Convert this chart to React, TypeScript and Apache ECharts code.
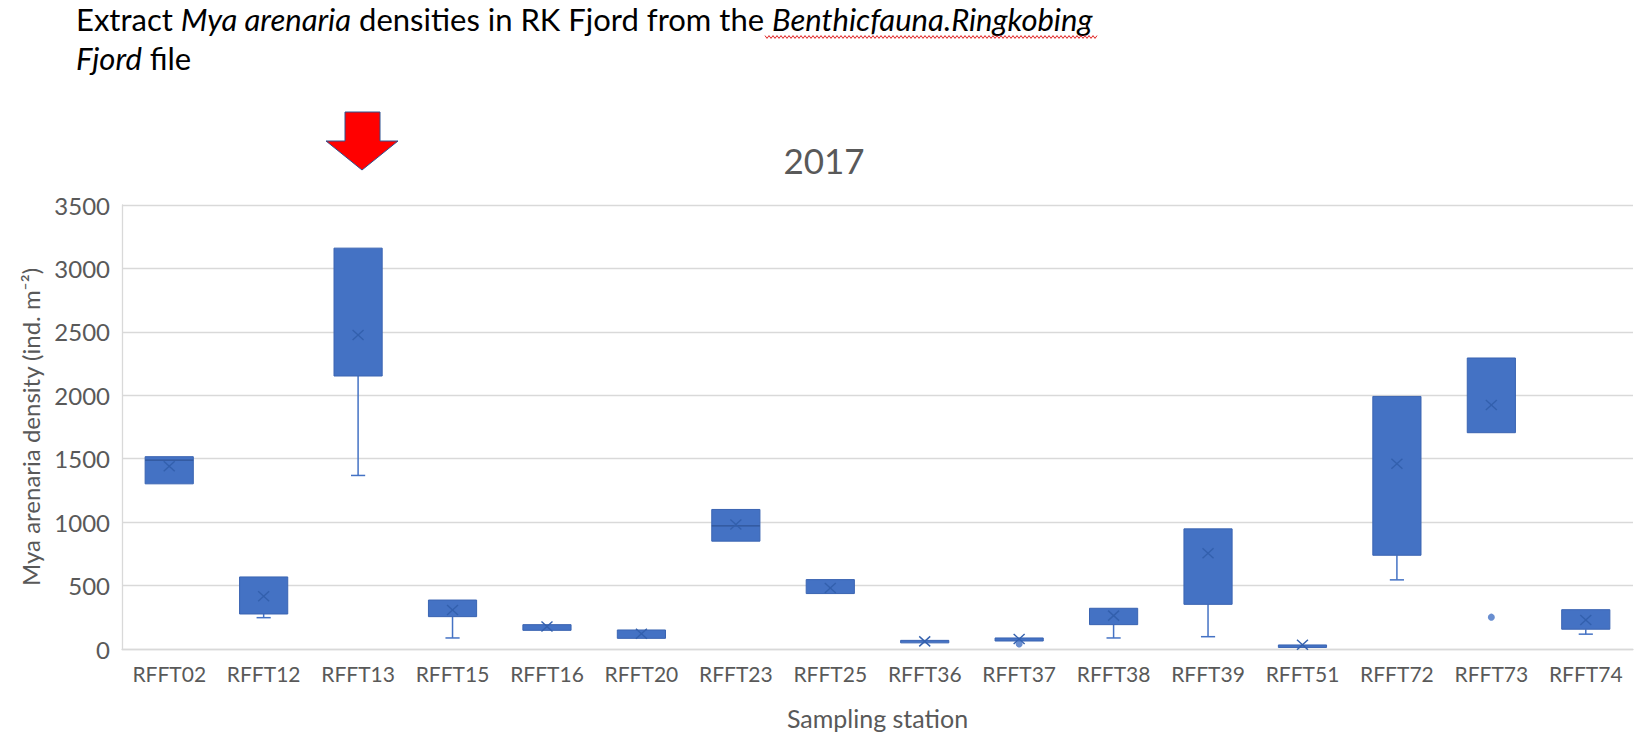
import React, { useEffect, useRef } from "react";
import * as echarts from "echarts";

const stations = ["RFFT02", "RFFT12", "RFFT13", "RFFT15", "RFFT16", "RFFT20", "RFFT23", "RFFT25", "RFFT36", "RFFT37", "RFFT38", "RFFT39", "RFFT51", "RFFT72", "RFFT73", "RFFT74"];
const whiskerLow = [1302, 247, 1368, 87, 147, 84, 850, 437, 52, 63, 87, 97, 20, 545, 1705, 117];
const quartile1 = [1302, 276, 2152, 255, 147, 84, 850, 437, 52, 63, 192, 352, 20, 739, 1705, 156];
const medians = [1489, 276, 2152, 255, 147, 84, 971, 437, 52, 63, 192, 352, 20, 739, 1705, 156];
const quartile3 = [1516, 568, 3160, 386, 192, 150, 1100, 547, 68, 87, 321, 947, 32, 1991, 2294, 310];
const whiskerHigh = [1516, 568, 3160, 386, 192, 150, 1100, 547, 68, 87, 321, 947, 32, 1991, 2294, 310];
const means = [1441, 415, 2476, 308, 178, 121, 981, 481, 60, 79, 263, 754, 34, 1460, 1924, 229];
const outlierStation = ["RFFT37", "RFFT73"];
const outlierValue = [39, 251];
const yTicks = { min: 0, max: 3500, interval: 500 };

const FONT = "Lato";
const BLUE = "#4472C4";

export default function App() {
  const ref = useRef<HTMLDivElement>(null);
  useEffect(() => {
    if (!ref.current) return;
    const chart = echarts.init(ref.current, null, { renderer: "svg" });

    const boxData = stations.map((_, i) => [i, whiskerLow[i], quartile1[i], medians[i], quartile3[i], whiskerHigh[i], means[i]]);
    const outData = outlierStation.map((s, k) => [stations.indexOf(s), outlierValue[k]]);

    const renderBox = (params: any, api: any) => {
      const i = api.value(0);
      const lo = api.value(1), q1 = api.value(2), md = api.value(3), q3 = api.value(4), hi = api.value(5), mean = api.value(6);
      const cx = api.coord([i, 0])[0];
      const band = api.size([1, 0])[0];
      const bw = band * 0.51;
      const cap = band * 0.15;
      const y = (v: number) => api.coord([i, v])[1];
      const children: any[] = [];
      const ws = { stroke: BLUE, lineWidth: 1.5 };
      if (lo < q1) {
        children.push({ type: "line", shape: { x1: cx, y1: y(q1), x2: cx, y2: y(lo) }, style: ws });
        children.push({ type: "line", shape: { x1: cx - cap / 2, y1: y(lo), x2: cx + cap / 2, y2: y(lo) }, style: ws });
      }
      if (hi > q3) {
        children.push({ type: "line", shape: { x1: cx, y1: y(q3), x2: cx, y2: y(hi) }, style: ws });
        children.push({ type: "line", shape: { x1: cx - cap / 2, y1: y(hi), x2: cx + cap / 2, y2: y(hi) }, style: ws });
      }
      const top = y(q3);
      const h = Math.max(y(q1) - top, 2.5);
      children.push({ type: "rect", shape: { x: cx - bw / 2, y: top, width: bw, height: h }, style: { fill: BLUE, stroke: "#3A64B2", lineWidth: 1 } });
      if (md > q1 && md < q3) {
        children.push({ type: "line", shape: { x1: cx - bw / 2, y1: y(md), x2: cx + bw / 2, y2: y(md) }, style: { stroke: "#2F5597", lineWidth: 1.2 } });
      }
      const my = y(mean);
      const xs = { stroke: "#3360AD", lineWidth: 1.4 };
      children.push({ type: "line", shape: { x1: cx - 5.5, y1: my - 5, x2: cx + 5.5, y2: my + 5 }, style: xs });
      children.push({ type: "line", shape: { x1: cx - 5.5, y1: my + 5, x2: cx + 5.5, y2: my - 5 }, style: xs });
      return { type: "group", children };
    };

    const squiggle: number[][] = [];
    for (let k = 0; k <= 166; k++) squiggle.push([765 + k * 2, 37 + (k % 2 ? 1.4 : -1.4)]);

    chart.setOption({
      animation: false,
      backgroundColor: "#ffffff",
      title: {
        text: "2017",
        left: "center",
        top: 137,
        textStyle: { fontFamily: FONT, fontSize: 35, fontWeight: "normal", color: "#595959" },
      },
      grid: { left: 122, right: 15, top: 205, bottom: 736 - 649 },
      xAxis: {
        type: "category",
        data: stations,
        name: "Sampling station",
        nameLocation: "middle",
        nameGap: 56,
        nameTextStyle: { fontFamily: FONT, fontSize: 25, color: "#595959" },
        axisLine: { lineStyle: { color: "#D9D9D9", width: 1.3 } },
        axisTick: { show: false },
        axisLabel: { fontFamily: FONT, fontSize: 21, color: "#595959", margin: 14, interval: 0 },
      },
      yAxis: {
        type: "value",
        min: yTicks.min,
        max: yTicks.max,
        interval: yTicks.interval,
        name: "Mya arenaria density (ind. m⁻²)",
        nameLocation: "middle",
        nameRotate: 90,
        nameGap: 80,
        nameTextStyle: { fontFamily: FONT, fontSize: 24, color: "#595959" },
        axisLine: { show: true, lineStyle: { color: "#D9D9D9", width: 1.3 } },
        axisTick: { show: false },
        splitLine: { lineStyle: { color: "#D9D9D9", width: 1.3 } },
        axisLabel: { fontFamily: FONT, fontSize: 24, color: "#595959", margin: 12, formatter: (v: number) => String(v) },
      },
      series: [
        {
          type: "custom",
          renderItem: renderBox,
          data: boxData,
          encode: { x: 0, y: [1, 2, 3, 4, 5, 6] },
          z: 3,
        },
        {
          type: "scatter",
          data: outData,
          symbol: "circle",
          symbolSize: 7,
          itemStyle: { color: BLUE },
          z: 4,
        },
      ],
      graphic: [
        {
          type: "text",
          left: 76,
          top: 3,
          style: {
            text: "Extract {i|Mya arenaria} densities in RK Fjord from the {i|Benthicfauna.Ringkobing}",
            font: `31px ${FONT}`,
            fill: "#000000",
            rich: { i: { fontStyle: "italic", fontFamily: FONT, fontSize: 31, fill: "#000000" } },
          },
        },
        {
          type: "text",
          left: 76,
          top: 42,
          style: {
            text: "{i|Fjord} file",
            font: `31px ${FONT}`,
            fill: "#000000",
            rich: { i: { fontStyle: "italic", fontFamily: FONT, fontSize: 31, fill: "#000000" } },
          },
        },
        {
          type: "polyline",
          shape: { points: squiggle },
          style: { stroke: "#E02020", lineWidth: 1, fill: "none" },
        },
        {
          type: "polygon",
          shape: { points: [[345, 112], [380, 112], [380, 141], [398, 141], [362, 170], [326, 141], [345, 141]] },
          style: { fill: "#FF0000", stroke: "#2F528F", lineWidth: 1 },
        },
      ],
    });
    return () => chart.dispose();
  }, []);
  return <div ref={ref} style={{ position: "absolute", left: 0, top: 0, width: 1648, height: 736 }} />;
}
